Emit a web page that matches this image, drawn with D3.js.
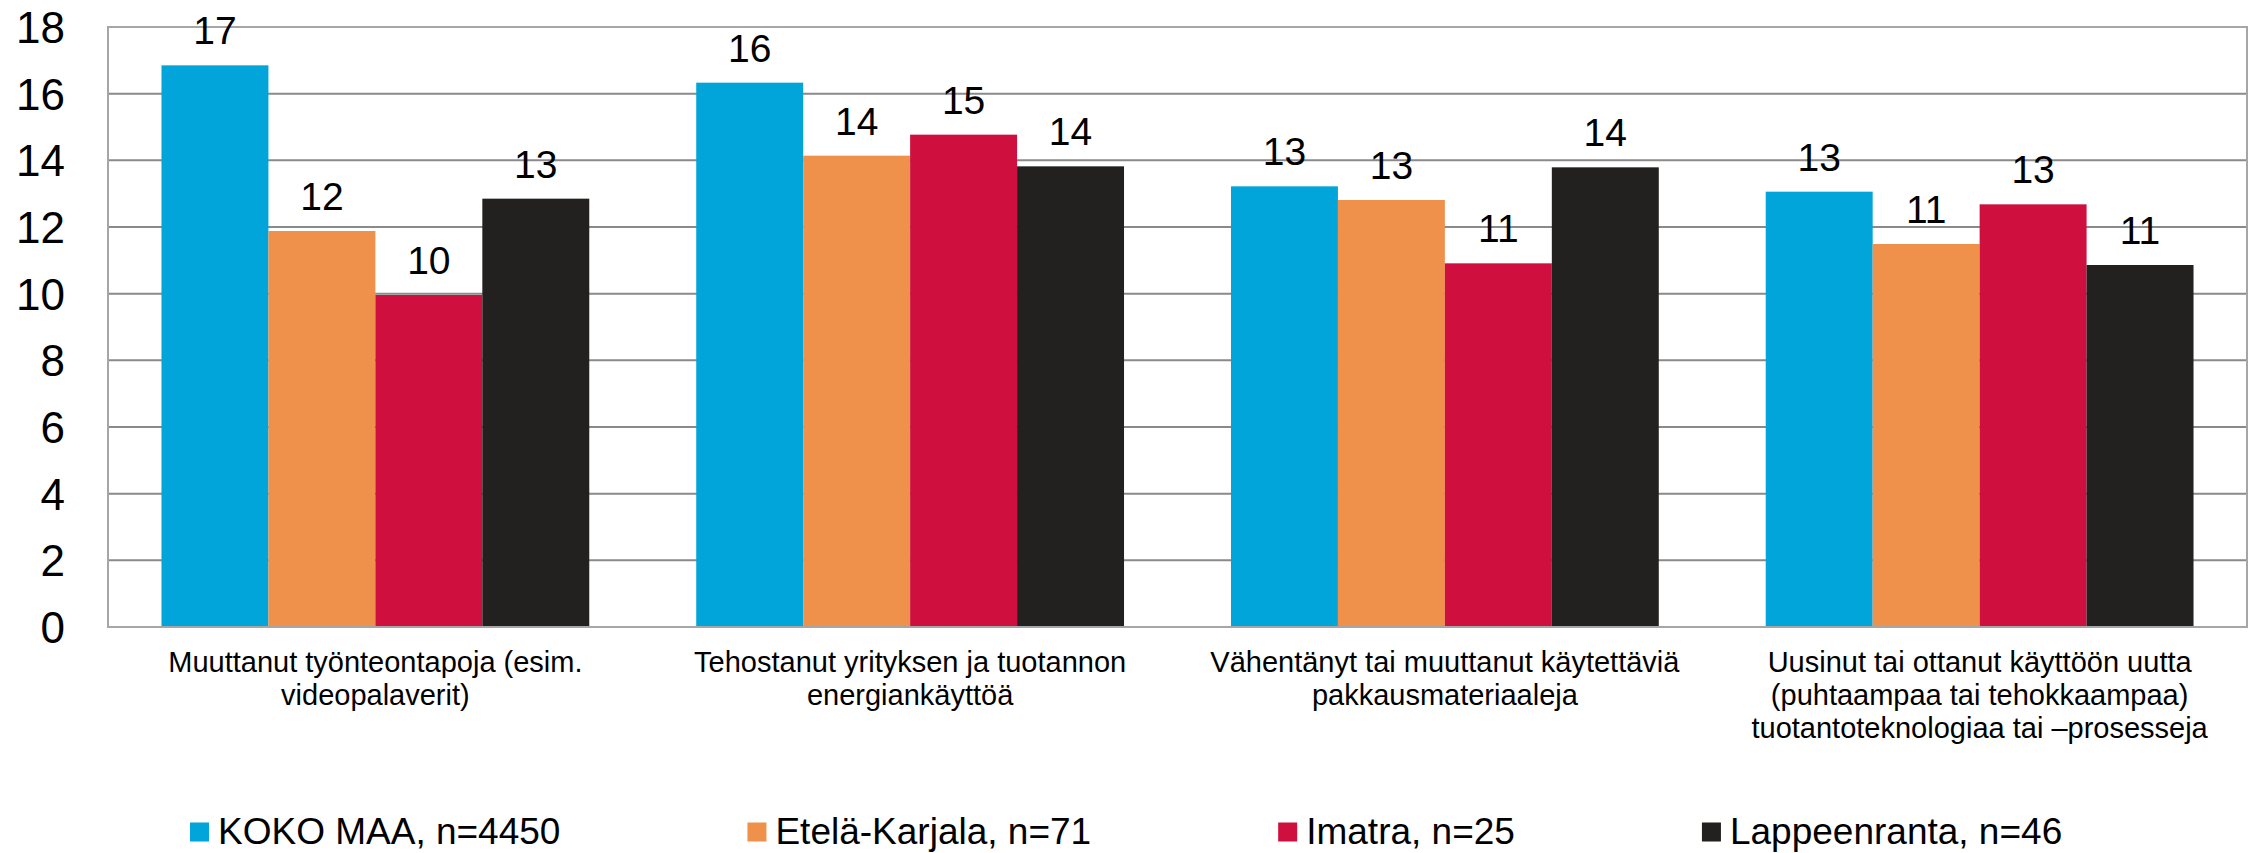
<!DOCTYPE html>
<html>
<head>
<meta charset="utf-8">
<script src="https://cdn.jsdelivr.net/npm/d3@7"></script>
<style>
  body { margin: 0; background: white; }
  svg { display: block; font-family: "Liberation Sans", Arial, sans-serif; }
</style>
</head>
<body>
<div id="chart"></div>
<script>
// Category labels, already split into the lines shown under each group
const categories = [
  ['Muuttanut työnteontapoja (esim.', 'videopalaverit)'],
  ['Tehostanut yrityksen ja tuotannon', 'energiankäyttöä'],
  ['Vähentänyt tai muuttanut käytettäviä', 'pakkausmateriaaleja'],
  ['Uusinut tai ottanut käyttöön uutta', '(puhtaampaa tai tehokkaampaa)', 'tuotantoteknologiaa tai –prosesseja']
];

const series_names = ['KOKO MAA, n=4450', 'Etelä-Karjala, n=71', 'Imatra, n=25', 'Lappeenranta, n=46'];
const series_colors = ['#02a5da', '#f0914b', '#cf0f3e', '#222120'];

// values per series, one per category
const koko_maa = [16.85, 16.33, 13.22, 13.06];
const etela_karjala = [11.88, 14.14, 12.81, 11.49];
const imatra = [9.96, 14.77, 10.91, 12.68];
const lappeenranta = [12.85, 13.82, 13.79, 10.86];

const y_ticks = [0, 2, 4, 6, 8, 10, 12, 14, 16, 18];

const width = 2257;
const height = 853;
const margin = {top: 27, right: 10, bottom: 226, left: 108};

const styles = {
  grid: {stroke: '#8a8a8a', strokeWidth: 2},
  frame: {fill: 'none', stroke: '#a6a6a6', strokeWidth: 2},
  tick_text: {fontSize: '44px', fill: '#000', textAnchor: 'end'},
  value_text: {fontSize: '39px', fill: '#000', textAnchor: 'middle'},
  cat_text: {fontSize: '29px', fill: '#000', textAnchor: 'middle'},
  legend_text: {fontSize: '37px', fill: '#000'}
};

const all_values = [koko_maa, etela_karjala, imatra, lappeenranta];
const cat_ids = categories.map((c, i) => 'c' + i);

const data = cat_ids.map((id, i) => ({
  id,
  lines: categories[i],
  values: series_names.map((name, s) => ({name, s, value: all_values[s][i]}))
}));

const svg = d3.select('#chart').append('svg')
  .attr('width', width)
  .attr('height', height);

const x0 = d3.scaleBand()
  .domain(cat_ids)
  .range([margin.left, width - margin.right])
  .paddingInner(0.2)
  .paddingOuter(0.1);

const x1 = d3.scaleBand()
  .domain(d3.range(series_names.length))
  .range([0, x0.bandwidth()]);

const y = d3.scaleLinear()
  .domain([0, 18])
  .range([height - margin.bottom, margin.top]);

function applyStyle(sel, st){
  Object.entries(st).forEach(([k, v]) => sel.style(k.replace(/[A-Z]/g, m => '-' + m.toLowerCase()), v));
  return sel;
}

// horizontal grid lines
svg.append('g').selectAll('line')
  .data(y_ticks.filter(t => t > 0 && t < 18))
  .join('line')
  .attr('x1', margin.left)
  .attr('x2', width - margin.right)
  .attr('y1', d => y(d))
  .attr('y2', d => y(d))
  .call(applyStyle, styles.grid);

// plot frame
svg.append('rect')
  .attr('x', margin.left)
  .attr('y', y(18))
  .attr('width', width - margin.right - margin.left)
  .attr('height', y(0) - y(18))
  .call(applyStyle, styles.frame);

// y tick labels
svg.append('g').selectAll('text')
  .data(y_ticks)
  .join('text')
  .attr('x', 65)
  .attr('y', d => y(d))
  .attr('dy', '0.36em')
  .text(d => d)
  .call(applyStyle, styles.tick_text);

// bars
const groups = svg.append('g').selectAll('g')
  .data(data)
  .join('g')
  .attr('transform', d => `translate(${x0(d.id)},0)`);

groups.selectAll('rect')
  .data(d => d.values)
  .join('rect')
  .attr('x', d => x1(d.s))
  .attr('width', x1.bandwidth())
  .attr('y', d => y(d.value))
  .attr('height', d => y(0) - y(d.value))
  .attr('fill', d => series_colors[d.s]);

// value labels above the bars
groups.selectAll('text.value')
  .data(d => d.values)
  .join('text')
  .attr('class', 'value')
  .attr('x', d => x1(d.s) + x1.bandwidth() / 2)
  .attr('y', d => y(d.value) - 21)
  .text(d => Math.round(d.value))
  .call(applyStyle, styles.value_text);

// bottom axis line drawn over the bars
svg.append('line')
  .attr('x1', margin.left)
  .attr('x2', width - margin.right)
  .attr('y1', y(0))
  .attr('y2', y(0))
  .call(applyStyle, styles.frame);

// category labels
svg.append('g').selectAll('text')
  .data(data)
  .join('text')
  .attr('x', d => x0(d.id) + x0.bandwidth() / 2)
  .attr('y', 672)
  .call(applyStyle, styles.cat_text)
  .selectAll('tspan')
  .data(d => d.lines.map(l => ({l, cx: x0(d.id) + x0.bandwidth() / 2})))
  .join('tspan')
  .attr('x', d => d.cx)
  .attr('dy', (d, i) => i ? 33 : 0)
  .text(d => d.l);

// legend: square + text, items spaced by a fixed gap
const legend_y = 832;
const legend_x = 190;
const swatch = 19;
const swatch_gap = 9;
const item_gap = 187;

const legend = svg.append('g');
const items = legend.selectAll('g')
  .data(series_names)
  .join('g');

items.append('rect')
  .attr('width', swatch)
  .attr('height', swatch)
  .attr('y', legend_y - swatch / 2)
  .attr('fill', (d, i) => series_colors[i]);

items.append('text')
  .attr('x', swatch + swatch_gap)
  .attr('y', legend_y)
  .attr('dy', '0.33em')
  .text(d => d)
  .call(applyStyle, styles.legend_text);

let offset = 0;
const widths = [];
items.each(function(){
  widths.push(swatch + swatch_gap + d3.select(this).select('text').node().getComputedTextLength());
});
items.attr('transform', (d, i) => {
  const t = `translate(${legend_x + offset},0)`;
  offset += widths[i] + item_gap;
  return t;
});
</script>
</body>
</html>
